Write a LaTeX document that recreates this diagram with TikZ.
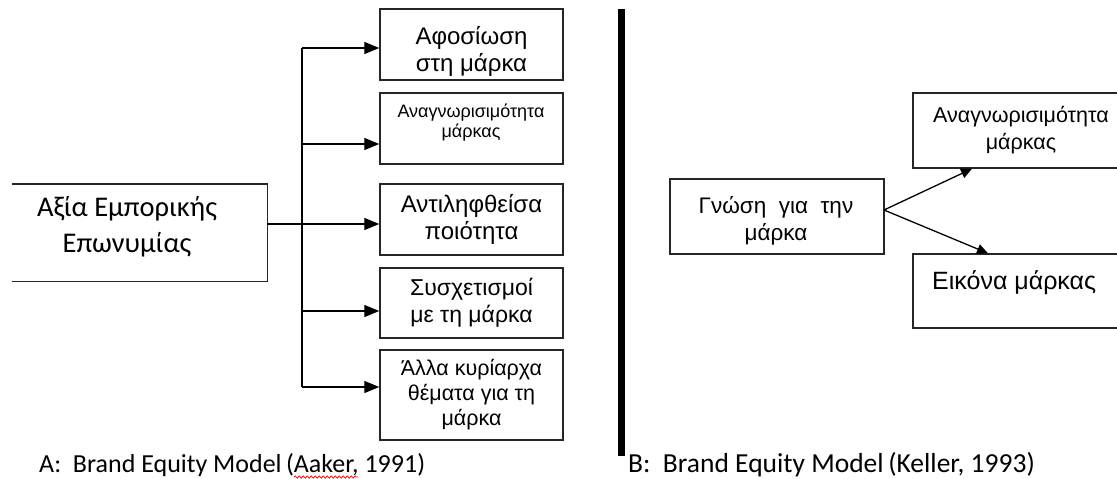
\documentclass[tikz,border=0pt]{standalone}
\usepackage{fontspec}
\setmainfont{Carlito}
\newfontfamily\arial{Liberation Sans}
\usetikzlibrary{arrows.meta,decorations.pathmorphing}
\begin{document}
\begin{tikzpicture}[x=1pt,y=-1pt,
  box/.style={draw=black!85,line width=1.4pt,inner sep=0pt,minimum width=183pt,align=center,font=\arial},
  kbox/.style={draw=black!85,line width=1.4pt,inner sep=0pt,align=center,font=\arial},
  btext/.style={align=center,inner sep=0pt},
  conn/.style={line width=1.3pt,-{Triangle[length=15pt,width=12pt]}},
  kconn/.style={line width=1.3pt,-{Triangle[length=11pt,width=10pt]}},
  trunk/.style={line width=1.3pt},
  captext/.style={anchor=west,inner sep=0pt},
]
\useasboundingbox (0,0) rectangle (1117,479);
\clip (0,0) rectangle (1117,479);

% ---- Part A ----
\node[inner sep=0pt,minimum width=255pt,minimum height=97pt] (main) at (139.5,232.5) {};
\draw[line width=1.4pt,black!85] (main.north west) -- (main.north east) -- (main.south east) -- (main.south west);
\node[btext,font=\fontsize{28.5}{36}\selectfont] (maint) at (127,227) {Αξία Εμπορικής\\Επωνυμίας};

\node[box,minimum height=71pt] (a1) at (471.5,44.5) {};
\node[btext,font=\arial\fontsize{24}{27}\selectfont] (a1t) at (471.5,51) {Αφοσίωση\\στη μάρκα};
\node[box,minimum height=71pt] (a2) at (471.5,128.5) {};
\node[btext,font=\arial\fontsize{18}{20}\selectfont] (a2t) at (471,123) {Αναγνωρισιμότητα\\μάρκας};
\node[box,minimum height=71pt,font=\arial\fontsize{24}{27}\selectfont] (a3) at (471.5,219.5) {Αντιληφθείσα\\ποιότητα};
\node[box,minimum height=70pt,font=\arial\fontsize{23}{27}\selectfont] (a4) at (471.5,303) {Συσχετισμοί\\με τη μάρκα};
\node[box,minimum height=90pt,font=\arial\fontsize{21.5}{25}\selectfont] (a5) at (471.5,395) {Άλλα κυρίαρχα\\θέματα για τη\\μάρκα};

\coordinate (t1) at (302,48);
\coordinate (t2) at (302,144);
\coordinate (t4) at (302,311);
\coordinate (t5) at (302,387);
\draw[trunk] (t1) -- (t5);
\draw[conn] (main.east |- 0,224) -- (a3.west |- 0,224);
\draw[conn] (t1) -- (a1.west |- t1);
\draw[conn] (t2) -- (a2.west |- t2);
\draw[conn] (t4) -- (a4.west |- t4);
\draw[conn] (t5) -- (a5.west |- t5);

\node[captext,font=\fontsize{26}{30}\selectfont] (capA) at (39,465) {A:\ \ Brand Equity Model\,(Aaker, 1991)};
\coordinate (w1) at (294,477);
\coordinate (w2) at (358,477);
\draw[red,line width=0.7pt,decorate,decoration={snake,amplitude=1.2pt,segment length=4pt}] (w1) -- (w2);

% ---- separator ----
\coordinate (s1) at (621.5,9);
\coordinate (s2) at (621.5,456);
\draw[line width=7pt] (s1) -- (s2);

% ---- Part B ----
\node[kbox,minimum width=214pt,minimum height=75pt] (g) at (777,216.5) {};
\node[btext,font=\arial\fontsize{22.5}{27}\selectfont] (gt) at (776,221) {Γνώση\ \ για\ \ την\\μάρκα};
\node[kbox,minimum width=230pt,minimum height=75pt] (r) at (1028,130.5) {};
\node[btext,font=\arial\fontsize{21.5}{27}\selectfont] (rt) at (1021,130.5) {Αναγνωρισιμότητα\\μάρκας};
\node[kbox,minimum width=230pt,minimum height=74pt] (e) at (1028,291) {};
\node[anchor=west,inner sep=0pt,font=\arial\fontsize{25}{27}\selectfont] (et) at (932,283) {Εικόνα μάρκας};

\coordinate (gs) at (884,210);
\draw[kconn] (gs) -- (r.south west -| 972,0);
\draw[kconn] (gs) -- (e.north west -| 988,0);

\node[captext,font=\fontsize{27.5}{30}\selectfont] (capB) at (628,465) {B:\ \ Brand Equity Model\,(Keller, 1993)};
\end{tikzpicture}
\end{document}
